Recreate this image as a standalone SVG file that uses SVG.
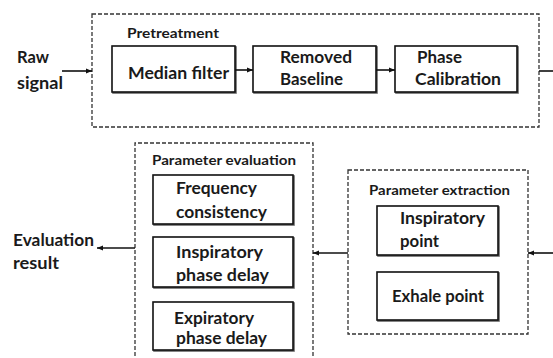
<svg xmlns="http://www.w3.org/2000/svg" width="553" height="358" viewBox="0 0 553 358">
  <defs>
    <marker id="arrow" viewBox="0 0 6 6" refX="6" refY="3" markerWidth="6" markerHeight="6" markerUnits="userSpaceOnUse" orient="auto">
      <path d="M0,0.5 L6,3 L0,5.5 Z" fill="#111"/>
    </marker>
    <filter id="shadow" x="-5%" y="-5%" width="115%" height="125%">
      <feOffset dx="1" dy="1" in="SourceAlpha" result="o"/>
      <feGaussianBlur stdDeviation="0.6" in="o" result="b"/>
      <feComponentTransfer in="b" result="s"><feFuncA type="linear" slope="0.6"/></feComponentTransfer>
      <feMerge><feMergeNode in="s"/><feMergeNode in="SourceGraphic"/></feMerge>
    </filter>
  </defs>
  <style>
    .group { fill: none; stroke: #333; stroke-width: 1.3; stroke-dasharray: 4 2; }
    .box { fill: #fff; stroke: #111; stroke-width: 1.6; filter: url(#shadow); }
    .label { font-family: Lato, "Liberation Sans", sans-serif; font-weight: bold; fill: #1a1a1a; }
    .t { font-size: 17px; }
    .cap { font-size: 13px; }
    .io { font-size: 17px; }
    .conn { stroke: #111; stroke-width: 1.6; fill: none; }
  </style>
  <rect width="553" height="358" fill="#fff"/>

  <!-- dashed grouping frames -->
  <g id="pretreatment">
    <rect class="group" x="92" y="14" width="447" height="113"/>
    <text class="label cap" x="127" y="38" textLength="92" lengthAdjust="spacingAndGlyphs">Pretreatment</text>
  </g>
  <g id="parameter-evaluation">
    <path class="group" d="M135,362 V143 H313 V362"/>
    <text class="label cap" x="152" y="165" textLength="144" lengthAdjust="spacingAndGlyphs">Parameter evaluation</text>
  </g>
  <g id="parameter-extraction">
    <rect class="group" x="348" y="170" width="180" height="164"/>
    <text class="label cap" x="369" y="195" textLength="141" lengthAdjust="spacingAndGlyphs">Parameter extraction</text>
  </g>

  <!-- inputs / outputs -->
  <g id="raw-signal">
    <text class="label io" x="17" y="63" textLength="32" lengthAdjust="spacingAndGlyphs">Raw</text>
    <text class="label io" x="17" y="89" textLength="46" lengthAdjust="spacingAndGlyphs">signal</text>
  </g>
  <g id="evaluation-result">
    <text class="label io" x="13" y="246" textLength="81" lengthAdjust="spacingAndGlyphs">Evaluation</text>
    <text class="label io" x="13" y="269" textLength="46" lengthAdjust="spacingAndGlyphs">result</text>
  </g>

  <!-- processing steps -->
  <g id="median-filter">
    <rect class="box" x="112" y="46" width="123" height="46"/>
    <text class="label t" x="128" y="79" textLength="101" lengthAdjust="spacingAndGlyphs">Median filter</text>
  </g>
  <g id="removed-baseline">
    <rect class="box" x="253" y="46" width="123" height="46"/>
    <text class="label t" x="280" y="63" textLength="72" lengthAdjust="spacingAndGlyphs">Removed</text>
    <text class="label t" x="280" y="85" textLength="63" lengthAdjust="spacingAndGlyphs">Baseline</text>
  </g>
  <g id="phase-calibration">
    <rect class="box" x="395" y="46" width="122" height="46"/>
    <text class="label t" x="417" y="63" textLength="45" lengthAdjust="spacingAndGlyphs">Phase</text>
    <text class="label t" x="415" y="85" textLength="86" lengthAdjust="spacingAndGlyphs">Calibration</text>
  </g>
  <g id="inspiratory-point">
    <rect class="box" x="377" y="206" width="121" height="49"/>
    <text class="label t" x="400" y="224" textLength="85" lengthAdjust="spacingAndGlyphs">Inspiratory</text>
    <text class="label t" x="400" y="247" textLength="39" lengthAdjust="spacingAndGlyphs">point</text>
  </g>
  <g id="exhale-point">
    <rect class="box" x="377" y="272" width="121" height="48"/>
    <text class="label t" x="392" y="302" textLength="92" lengthAdjust="spacingAndGlyphs">Exhale point</text>
  </g>
  <g id="frequency-consistency">
    <rect class="box" x="153" y="175" width="140" height="49"/>
    <text class="label t" x="176" y="194" textLength="81" lengthAdjust="spacingAndGlyphs">Frequency</text>
    <text class="label t" x="176" y="218" textLength="91" lengthAdjust="spacingAndGlyphs">consistency</text>
  </g>
  <g id="inspiratory-phase-delay">
    <rect class="box" x="153" y="237" width="140" height="50"/>
    <text class="label t" x="176" y="258" textLength="87" lengthAdjust="spacingAndGlyphs">Inspiratory</text>
    <text class="label t" x="176" y="281" textLength="93" lengthAdjust="spacingAndGlyphs">phase delay</text>
  </g>
  <g id="expiratory-phase-delay">
    <rect class="box" x="153" y="302" width="140" height="48"/>
    <text class="label t" x="174" y="324" textLength="80" lengthAdjust="spacingAndGlyphs">Expiratory</text>
    <text class="label t" x="176" y="344" textLength="91" lengthAdjust="spacingAndGlyphs">phase delay</text>
  </g>

  <!-- connectors -->
  <g id="connectors">
    <line class="conn" x1="62" y1="71" x2="92" y2="71" marker-end="url(#arrow)"/>
    <line class="conn" x1="235" y1="70" x2="253" y2="70" marker-end="url(#arrow)"/>
    <line class="conn" x1="376" y1="70" x2="395" y2="70" marker-end="url(#arrow)"/>
    <line class="conn" x1="539" y1="71" x2="553" y2="71"/>
    <line class="conn" x1="553" y1="253" x2="528" y2="253" marker-end="url(#arrow)"/>
    <line class="conn" x1="348" y1="253" x2="313" y2="253" marker-end="url(#arrow)"/>
    <line class="conn" x1="135" y1="248" x2="97" y2="248" marker-end="url(#arrow)"/>
  </g>
</svg>
